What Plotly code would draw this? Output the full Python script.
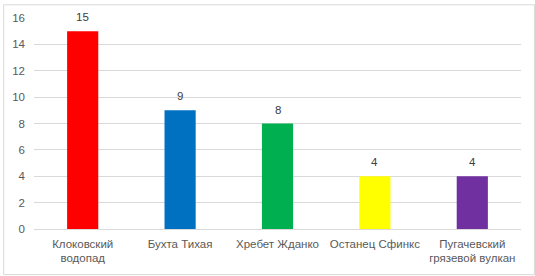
import plotly.graph_objects as go

categories = ["Клоковский<br>водопад", "Бухта Тихая", "Хребет Жданко", "Останец Сфинкс", "Пугачевский<br>грязевой вулкан"]
values = [15, 9, 8, 4, 4]
colors = ["#FF0000", "#0070C0", "#00B050", "#FFFF00", "#7030A0"]
y_ticks = [0, 2, 4, 6, 8, 10, 12, 14, 16]

W, H = 535, 276
ml, mr, mt, mb = 31, 14, 14, 47
pw, ph = W - ml - mr, H - mt - mb

fig = go.Figure(go.Bar(x=categories, y=values, marker_color=colors, marker_line_width=0))

for c, v in zip(categories, values):
    fig.add_annotation(x=c, y=v, text=str(v), showarrow=False, yshift=14,
                       font=dict(size=11.5, color="#404040"))

fig.add_shape(type="rect", xref="paper", yref="paper",
              x0=(0.5 - ml) / pw, x1=(W - 0.5 - ml) / pw,
              y0=-(H - 0.5 - mt - ph) / ph, y1=1 + (mt - 0.5) / ph,
              line=dict(color="#D9D9D9", width=1), fillcolor="rgba(0,0,0,0)", layer="below")

fig.update_layout(
    width=W, height=H,
    margin=dict(l=ml, r=mr, t=mt, b=mb),
    paper_bgcolor="white", plot_bgcolor="white",
    bargap=0.68,
    showlegend=False,
    font=dict(family="Liberation Sans", size=11.5, color="#595959"),
    xaxis=dict(showgrid=False, showline=False, ticks="", ticklabelstandoff=6,
               tickfont=dict(size=11.5, color="#595959")),
    yaxis=dict(range=[0, 16], tickvals=y_ticks, showgrid=True, gridcolor="#D9D9D9", gridwidth=1,
               zeroline=True, zerolinecolor="#D9D9D9", zerolinewidth=1,
               showline=False, ticks="", ticklabelstandoff=8,
               tickfont=dict(size=11.5, color="#595959")),
)

fig.write_html("out.html")
